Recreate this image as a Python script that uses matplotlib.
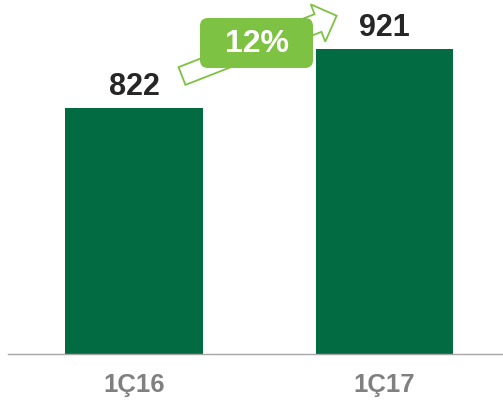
import matplotlib.pyplot as plt
from matplotlib.patches import FancyArrow, FancyBboxPatch

periods = ["1Ç16", "1Ç17"]
values = [822, 921]
growth_label = "12%"

BAR_GREEN = "#036B41"
LIGHT_GREEN = "#7DC242"
TICK_GRAY = "#808080"

plt.rcParams["font.family"] = ["Liberation Sans", "DejaVu Sans"]

fig = plt.figure(figsize=(5.03, 4.05), dpi=100)
ax = fig.add_axes([8 / 503, 51 / 405, 495 / 503, 354 / 405])

x = list(range(len(periods)))
bars = ax.bar(x, values, width=0.55, color=BAR_GREEN, zorder=2)
ax.set_ylim(409, 1003)
ax.set_xlim(-0.503, 1.473)

for rect, v in zip(bars, values):
    ax.annotate(f"{v}", (rect.get_x() + rect.get_width() / 2, rect.get_height()),
                xytext=(0, 4.5), textcoords="offset points", ha="center", va="bottom",
                fontsize=22, fontweight="bold", color="#262626")

ax.set_xticks(x, periods)
ax.tick_params(axis="x", length=0, pad=14, labelsize=18.5, labelcolor=TICK_GRAY)
for lbl in ax.get_xticklabels():
    lbl.set_fontweight("bold")
ax.set_yticks([])
for side in ["top", "left", "right"]:
    ax.spines[side].set_visible(False)
ax.spines["bottom"].set_color("#a6a6a6")
ax.spines["bottom"].set_linewidth(1.0)
ax.spines["bottom"].set_zorder(3)

# overlay in pixel units for the growth arrow + badge
ov = fig.add_axes([0, 0, 1, 1])
ov.set_xlim(0, 503)
ov.set_ylim(405, 0)
ov.axis("off")
ov.patch.set_alpha(0)

arrow = FancyArrow(182, 76, 136, -53, width=19, head_width=40, head_length=20,
                   length_includes_head=False, facecolor="white",
                   edgecolor=LIGHT_GREEN, linewidth=1.3, zorder=1)
ov.add_patch(arrow)

badge = FancyBboxPatch((200, 18), 113, 50, boxstyle="round,pad=0,rounding_size=8",
                       facecolor=LIGHT_GREEN, edgecolor="none", zorder=2)
ov.add_patch(badge)
ov.text(257, 44, growth_label, ha="center", va="center", fontsize=23,
        fontweight="bold", color="white", zorder=3)

fig.savefig("out.png", dpi=100)
